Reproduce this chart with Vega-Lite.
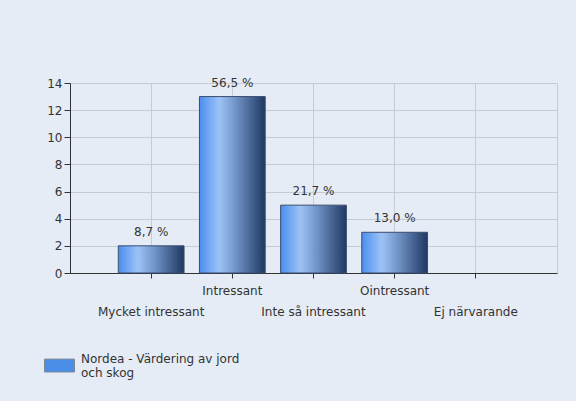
{
  "$schema": "https://vega.github.io/schema/vega-lite/v6.json",
  "autosize": {"type": "none"},
  "padding": {"left": 70, "top": 83, "right": 19, "bottom": 128},
  "width": 487,
  "height": 190,
  "background": "#e5ecf5",
  "config": {
    "font": "DejaVu Sans",
    "view": {"stroke": "#c6ccd4", "strokeWidth": 1},
    "axis": {"labelFont": "DejaVu Sans", "labelFontSize": 12, "labelColor": "#333333", "domainColor": "#333333", "tickColor": "#333333", "gridColor": "#c6ccd4", "title": null}
  },
  "data": {
    "values": [
      {"kategori": "Mycket intressant", "antal": 2, "andel": "8,7 %", "serie": "Nordea - Värdering av jord och skog"},
      {"kategori": "Intressant", "antal": 13, "andel": "56,5 %", "serie": "Nordea - Värdering av jord och skog"},
      {"kategori": "Inte så intressant", "antal": 5, "andel": "21,7 %", "serie": "Nordea - Värdering av jord och skog"},
      {"kategori": "Ointressant", "antal": 3, "andel": "13,0 %", "serie": "Nordea - Värdering av jord och skog"},
      {"kategori": "Ej närvarande", "antal": 0, "andel": "", "serie": "Nordea - Värdering av jord och skog"}
    ]
  },
  "encoding": {
    "x": {
      "field": "kategori", "type": "nominal", "sort": null,
      "scale": {"paddingInner": 0.19, "paddingOuter": 0.595},
      "axis": {
        "labelAngle": 0, "grid": true, "bandPosition": 0.5, "tickSize": 5,
        "labelBaseline": "top",
        "labelPadding": {"expr": "indexof(['Mycket intressant','Inte så intressant','Ej närvarande'], datum.value) >= 0 ? 28 : 7"}
      }
    },
    "y": {
      "field": "antal", "type": "quantitative",
      "scale": {"domain": [0, 14], "nice": false},
      "axis": {"values": [0, 2, 4, 6, 8, 10, 12, 14], "tickSize": 6, "labelPadding": 2}
    }
  },
  "layer": [
    {
      "mark": {
        "type": "bar",
        "stroke": "#3a4d6e",
        "strokeWidth": 1,
        "fill": {
          "gradient": "linear", "x1": 0, "y1": 0, "x2": 1, "y2": 0,
          "stops": [
            {"offset": 0, "color": "#4a8ef0"},
            {"offset": 0.3, "color": "#9dc3f6"},
            {"offset": 0.55, "color": "#7194c6"},
            {"offset": 1, "color": "#1f3863"}
          ]
        }
      },
      "encoding": {
        "strokeOpacity": {"condition": {"test": "datum.antal == 0", "value": 0}, "value": 1}
      }
    },
    {
      "mark": {"type": "text", "baseline": "alphabetic", "dy": -10, "fontSize": 12, "color": "#333333"},
      "encoding": {"text": {"field": "andel"}}
    },
    {
      "mark": {"type": "point", "opacity": 0, "filled": true},
      "encoding": {
        "x": {"value": 0},
        "y": {"value": 0},
        "fill": {
          "field": "serie", "type": "nominal",
          "scale": {"range": ["#4a8ee8"]},
          "legend": {
            "title": null, "orient": "none", "legendX": -26, "legendY": 260, "padding": 0,
            "symbolType": "M-1,0.04H1V0.9H-1Z", "symbolSize": 900, "symbolOpacity": 1,
            "symbolStrokeColor": "#7b8796", "symbolStrokeWidth": 1,
            "labelFont": "DejaVu Sans", "labelFontSize": 12, "labelColor": "#333333", "labelOffset": 6,
            "labelLimit": 300, "labelLineHeight": 14,
            "labelExpr": "['Nordea - Värdering av jord', 'och skog']"
          }
        }
      }
    }
  ]
}
